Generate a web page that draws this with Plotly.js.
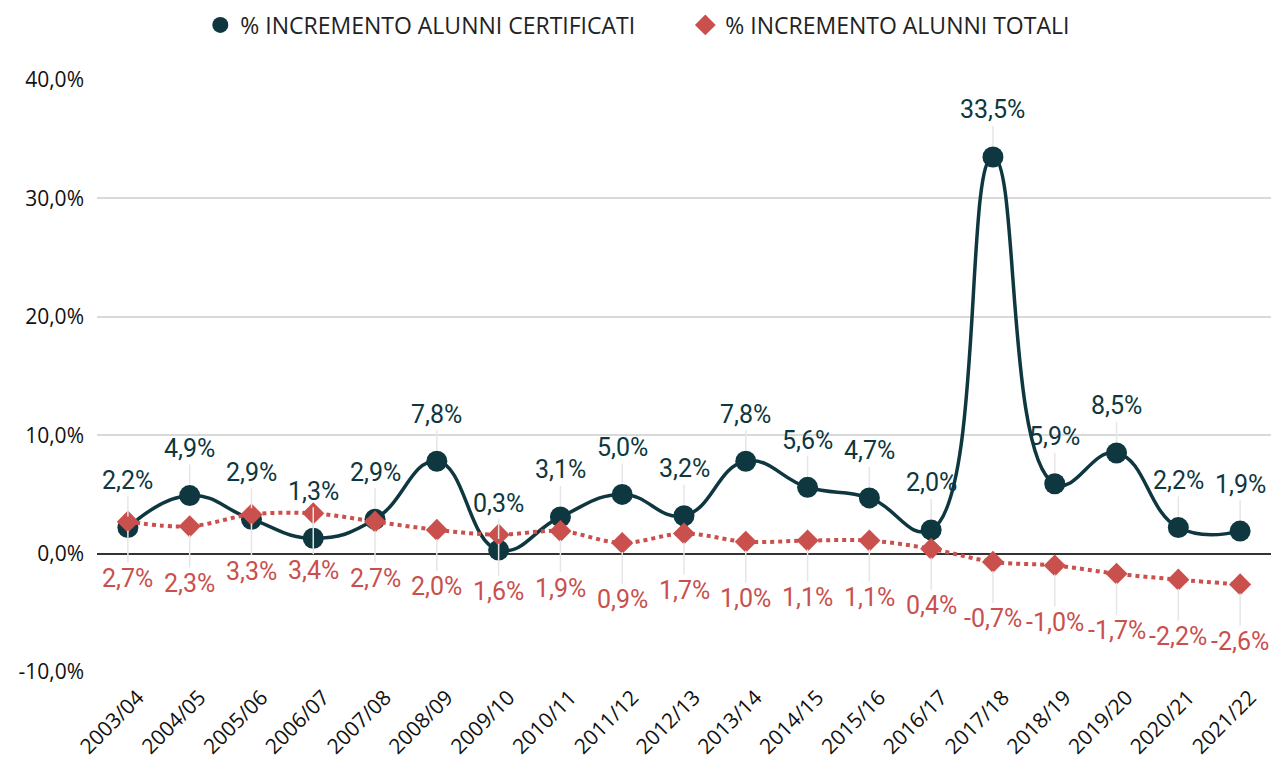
<!DOCTYPE html>
<html><head><meta charset="utf-8">
<script src="https://cdn.plot.ly/plotly-3.0.1.min.js"></script>
<style>body{margin:0;background:#fff}#c{width:1274px;height:762px}</style>
</head><body><div id="c"></div>
<script>
const years = ["2003/04","2004/05","2005/06","2006/07","2007/08","2008/09","2009/10","2010/11","2011/12","2012/13","2013/14","2014/15","2015/16","2016/17","2017/18","2018/19","2019/20","2020/21","2021/22"];
const certificati = [2.2,4.9,2.9,1.3,2.9,7.8,0.3,3.1,5.0,3.2,7.8,5.6,4.7,2.0,33.5,5.9,8.5,2.2,1.9];
const totali = [2.7,2.3,3.3,3.4,2.7,2.0,1.6,1.9,0.9,1.7,1.0,1.1,1.1,0.4,-0.7,-1.0,-1.7,-2.2,-2.6];
const nameCert = "% INCREMENTO ALUNNI CERTIFICATI";
const nameTot = "% INCREMENTO ALUNNI TOTALI";
const tickVals = [-10,0,10,20,30,40];
const tickText = ["-10,0%","0,0%","10,0%","20,0%","30,0%","40,0%"];

const dark = "#0e3740";
const red = "#c9504d";
const fmt = v => v.toFixed(1).replace('.', ',') + '%';

const traces = [
  {x: years, y: certificati, name: nameCert, type: 'scatter', mode: 'lines', showlegend: false,
   line: {color: dark, width: 3.5, shape: 'spline', smoothing: 1.3}, hoverinfo: 'skip'},
  {x: years, y: certificati, name: nameCert, type: 'scatter', mode: 'markers',
   marker: {symbol: 'circle', size: 21, color: dark}},
  {x: years, y: totali, name: nameTot, type: 'scatter', mode: 'lines', showlegend: false,
   line: {color: red, width: 4, dash: 'dot', shape: 'spline', smoothing: 1}, hoverinfo: 'skip'},
  {x: years, y: totali, name: nameTot, type: 'scatter', mode: 'markers',
   marker: {symbol: 'diamond', size: 17, color: red}}
];

const ann = [];
years.forEach((yr, i) => {
  ann.push({x: yr, y: certificati[i], xref: 'x', yref: 'y', text: fmt(certificati[i]),
    showarrow: true, arrowhead: 0, arrowwidth: 1.5, arrowcolor: '#e6e6e6', ax: 0, ay: -47, standoff: 11,
    font: {family: 'Roboto', size: 25, color: dark}});
  ann.push({x: yr, y: totali[i], xref: 'x', yref: 'y', text: fmt(totali[i]),
    showarrow: true, arrowhead: 0, arrowwidth: 1.5, arrowcolor: '#e6e6e6', ax: 0, ay: 57, standoff: 9,
    font: {family: 'Roboto', size: 25, color: red}});
});

const layout = {
  width: 1274, height: 762,
  margin: {l: 97, r: 3, t: 80, b: 90},
  separators: ',.',
  paper_bgcolor: '#fff', plot_bgcolor: '#fff',
  showlegend: true,
  legend: {orientation: 'h', x: 0.088, xanchor: 'left', y: 1.093, yanchor: 'middle',
    entrywidth: 440, entrywidthmode: 'pixels',
    font: {family: 'Open Sans', size: 23, color: '#222'}},
  xaxis: {type: 'category', range: [-0.5, 18.5], tickangle: -45, showgrid: false, zeroline: false,
    ticks: '', ticklabelshift: 10, ticklabelstandoff: 8,
    tickfont: {family: 'Open Sans', size: 21, color: '#111'}},
  yaxis: {range: [-10, 40], tickvals: tickVals, ticktext: tickText,
    showgrid: true, gridcolor: '#d9d9d9', gridwidth: 2,
    zeroline: true, zerolinecolor: '#333', zerolinewidth: 2, ticklabelstandoff: 12,
    tickfont: {family: 'Open Sans', size: 21, color: '#111'}},
  annotations: ann
};
Plotly.newPlot('c', traces, layout, {displayModeBar: false});
</script></body></html>
